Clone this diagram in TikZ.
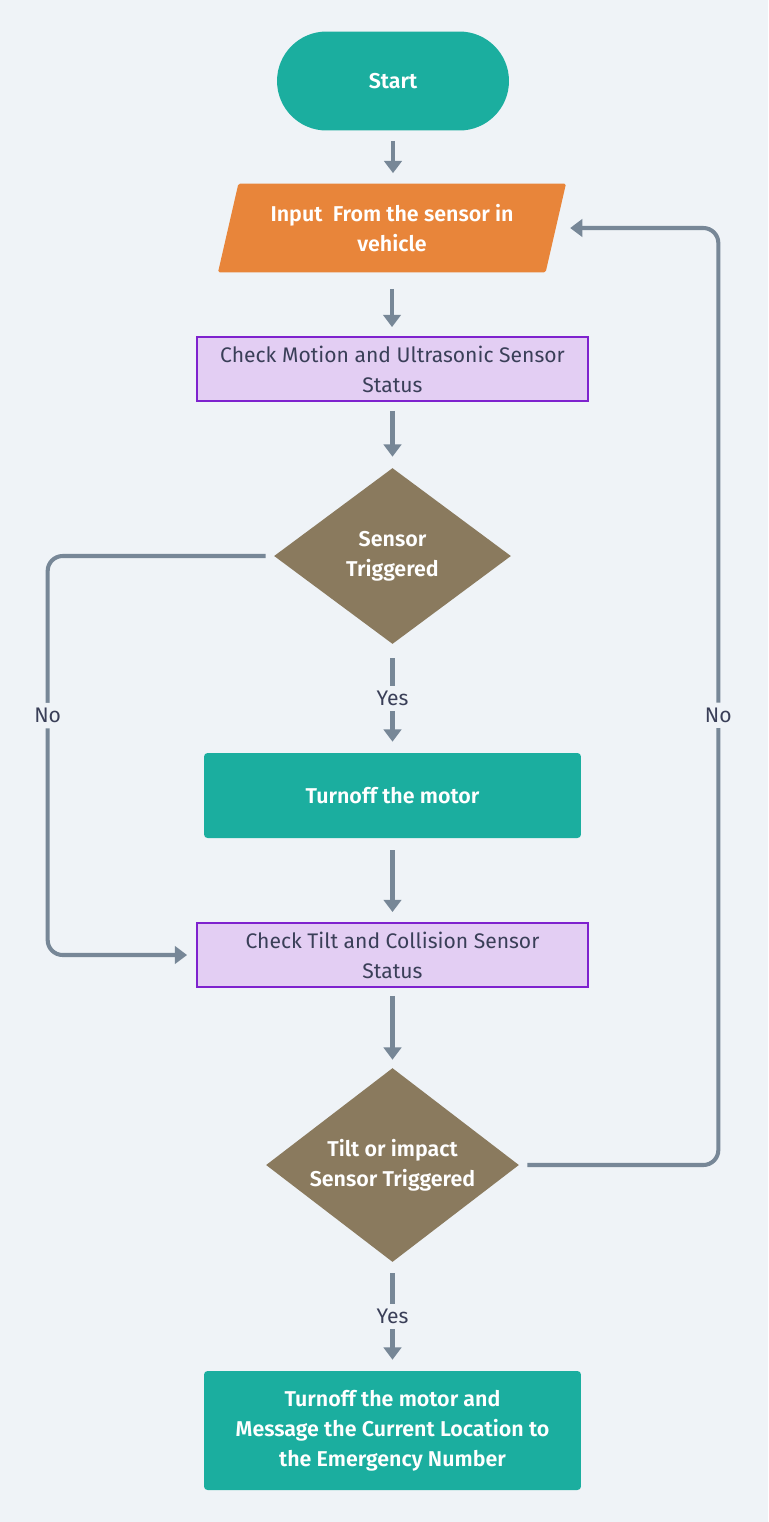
\documentclass[tikz,border=0pt]{standalone}
\usepackage{fontspec}
\IfFontExistsTF{Fira Sans SemiBold}{\setmainfont{Fira Sans}[BoldFont={Fira Sans SemiBold}]}{\setmainfont{Fira Sans}}
\usetikzlibrary{shapes.geometric,arrows.meta}
\definecolor{bgcol}{HTML}{EFF3F7}
\definecolor{tealbox}{HTML}{1BAE9F}
\definecolor{orangebox}{HTML}{E8853A}
\definecolor{lilacfill}{HTML}{E3CEF3}
\definecolor{lilacline}{HTML}{7E22CE}
\definecolor{mudbox}{HTML}{8A7A5E}
\definecolor{linecol}{HTML}{778797}
\definecolor{darktext}{HTML}{3A3F58}

\begin{document}
\begin{tikzpicture}[x=0.02cm,y=-0.02cm,
  whitetext/.style={text=white,font=\fontsize{12.2}{17}\selectfont\bfseries,align=center},
  darktxt/.style={text=darktext,font=\fontsize{12}{17}\selectfont,align=center},
  terminal/.style={whitetext,fill=tealbox,rectangle,rounded corners=0.99cm,minimum width=4.64cm,minimum height=1.98cm},
  inbox/.style={whitetext,fill=orangebox,trapezium,trapezium left angle=74,trapezium right angle=106,trapezium stretches=true,minimum width=6.98cm,minimum height=1.78cm,rounded corners=1pt},
  checkbox/.style={darktxt,fill=lilacfill,draw=lilacline,line width=1.1pt,rectangle,minimum width=7.82cm,minimum height=1.28cm},
  actbox/.style={whitetext,fill=tealbox,rectangle,rounded corners=2pt,minimum width=7.54cm},
  decision/.style={whitetext,fill=mudbox,diamond,aspect=1.3,inner sep=0pt},
  flow/.style={draw=linecol,line width=2.3pt,-{Triangle[width=10pt,length=7pt]}},
  lbl/.style={darktxt,fill=bgcol,inner sep=3pt}]
\fill[bgcol] (0,0) rectangle (768,1522);
\node[terminal] (start) at (393,81) {Start};
\node[inbox] (input) at (392,228) {Input\ \ From the sensor in\\vehicle};
\node[checkbox] (motion) at (392.5,369) {Check Motion and Ultrasonic Sensor\\Status};
\node[decision,minimum width=4.74cm,minimum height=3.52cm] (sensor) at (392.5,556) {Sensor\\Triggered};
\node[actbox,minimum height=1.7cm] (motor) at (392.5,795.5) {Turnoff the motor};
\node[checkbox] (tilt) at (392.5,955) {Check Tilt and Collision Sensor\\Status};
\node[decision,minimum width=5.06cm,minimum height=3.88cm] (impact) at (392.5,1165) {Tilt or impact\\Sensor Triggered};
\node[actbox,minimum height=2.38cm] (alert) at (392.5,1430.5) {Turnoff the motor and\\Message the Current Location to\\the Emergency Number};
\path[flow,shorten <=0.2cm,shorten >=0.2cm] (start.south) -- (start.south |- input.north);
\path[flow,shorten <=0.32cm,shorten >=0.18cm] (input.south) -- (input.south |- motion.north);
\path[flow,shorten <=0.18cm,shorten >=0.22cm] (motion.south) -- (motion.south |- sensor.north);
\path[flow,shorten <=0.28cm,shorten >=0.22cm] (sensor.south) -- node[lbl] {Yes} (motor.north);
\path[flow,shorten <=0.24cm,shorten >=0.2cm] (motor.south) -- (tilt.north);
\path[flow,shorten <=0.16cm,shorten >=0.16cm] (tilt.south) -- (impact.north);
\path[flow,shorten <=0.22cm,shorten >=0.22cm] (impact.south) -- node[lbl] {Yes} (alert.north);
\path[flow,rounded corners=0.3cm,shorten <=0.16cm,shorten >=0.18cm] (sensor.west) -- ++(-226,0) |- node[lbl,pos=0.2] {No} (tilt.west);
\path[flow,rounded corners=0.3cm,shorten <=0.16cm,shorten >=0.28cm] (impact.east) -- ++(199,0) |- node[lbl,pos=0.24] {No} (input.east);
\end{tikzpicture}
\end{document}
